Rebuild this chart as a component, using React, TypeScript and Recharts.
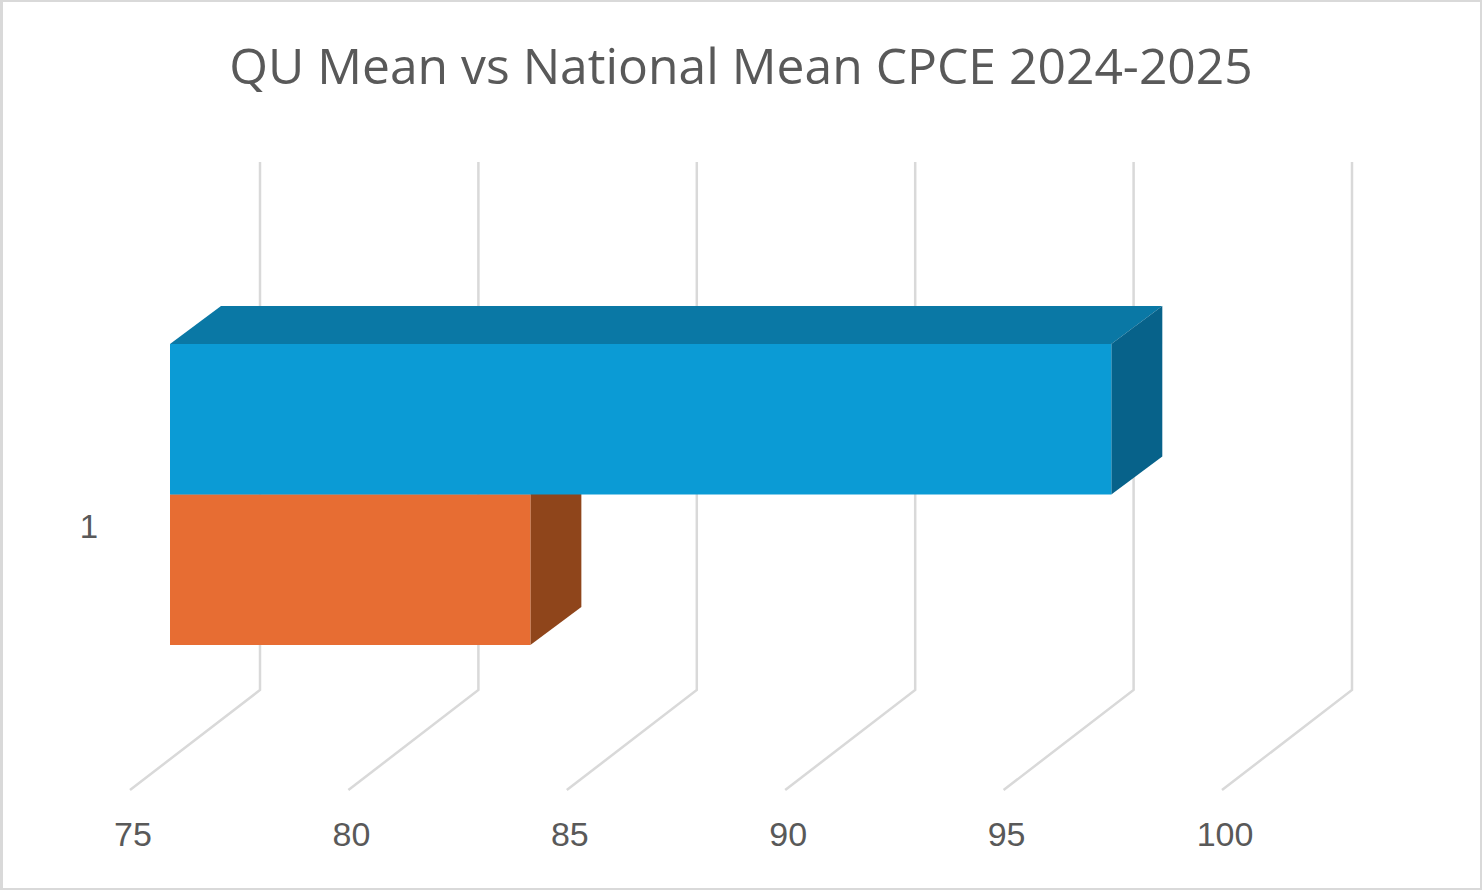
import { BarChart, Bar, XAxis, YAxis, CartesianGrid } from 'recharts'

const categories = ['1']
const quMean = [96.55]
const nationalMean = [83.25]
const xTicks = [75, 80, 85, 90, 95, 100]

const rows = categories.map((name, i) => ({ name, quMean: quMean[i], nationalMean: nationalMean[i] }))

const DEPTH_X = 51
const DEPTH_Y = 38

// flat bar -> box: front face plus top and end faces
function Box3D({ x, y, width, height, front, top, side }: any) {
    const r = x + width
    const b = y + height
    return (
        <g>
            <polygon points={`${x},${y} ${x + DEPTH_X},${y - DEPTH_Y} ${r + DEPTH_X},${y - DEPTH_Y} ${r},${y}`} fill={top} />
            <polygon points={`${r},${y} ${r + DEPTH_X},${y - DEPTH_Y} ${r + DEPTH_X},${b - DEPTH_Y} ${r},${b}`} fill={side} />
            <rect x={x} y={y} width={width} height={height} fill={front} />
        </g>
    )
}

// Floor and wall gridline of the 3D frame, one per x tick
function WallLine({ x1, y2 }: any) {
    return (
        <polyline
            points={`${x1 - 40},${y2 + 101} ${x1 + 90},${y2 + 1} ${x1 + 90},${y2 - 527}`}
            fill="none"
            stroke="#d9d9d9"
            strokeWidth={2.5}
        />
    )
}

function ValueTick({ x, y, payload }: any) {
    return (
        <text x={x - 37} y={y + 157} textAnchor="middle" fontSize={34} fill="#595959" fontFamily="Liberation Sans">
            {payload.value}
        </text>
    )
}

function CategoryTick({ y, payload }: any) {
    return (
        <text x={89} y={y + 43} textAnchor="middle" fontSize={33} fill="#595959" fontFamily="Liberation Sans">
            {payload.value}
        </text>
    )
}

export default function App() {
    return (
        <div
            style={{
                position: 'absolute',
                left: 0,
                top: 0,
                width: 1482,
                height: 890,
                boxSizing: 'border-box',
                background: '#fff',
                borderStyle: 'solid',
                borderColor: '#d9d9d9',
                borderWidth: '2px 2px 2px 3px',
                overflow: 'hidden',
            }}
        >
            <div
                style={{
                    position: 'absolute',
                    left: -3,
                    top: 31,
                    width: 1482,
                    textAlign: 'center',
                    fontFamily: 'Open Sans',
                    fontSize: 49.8,
                    lineHeight: '64px',
                    color: '#595959',
                    whiteSpace: 'nowrap',
                }}
            >
                QU Mean vs National Mean CPCE 2024-2025
            </div>
            <div style={{ position: 'absolute', left: -3, top: -2 }}>
                <BarChart
                    width={1482}
                    height={890}
                    data={rows}
                    layout="vertical"
                    barGap={0}
                    barSize={150.5}
                    margin={{ top: 300, right: 220, bottom: 0, left: 0 }}
                >
                    <CartesianGrid horizontal={false} vertical={<WallLine />} syncWithTicks />
                    <XAxis
                        type="number"
                        domain={[75, 100]}
                        ticks={xTicks}
                        interval={0}
                        height={201}
                        axisLine={false}
                        tickLine={false}
                        tickSize={0}
                        tickMargin={0}
                        tick={<ValueTick />}
                    />
                    <YAxis
                        type="category"
                        dataKey="name"
                        width={170}
                        axisLine={false}
                        tickLine={false}
                        tick={<CategoryTick />}
                    />
                    <Bar
                        dataKey="quMean"
                        isAnimationActive={false}
                        zIndex={400}
                        shape={(p: any) => <Box3D {...p} front="#0b9bd5" top="#0a78a5" side="#07628a" />}
                    />
                    <Bar
                        dataKey="nationalMean"
                        isAnimationActive={false}
                        zIndex={300}
                        shape={(p: any) => <Box3D {...p} front="#e76d33" top="#b0532a" side="#8f451b" />}
                    />
                </BarChart>
            </div>
        </div>
    )
}
